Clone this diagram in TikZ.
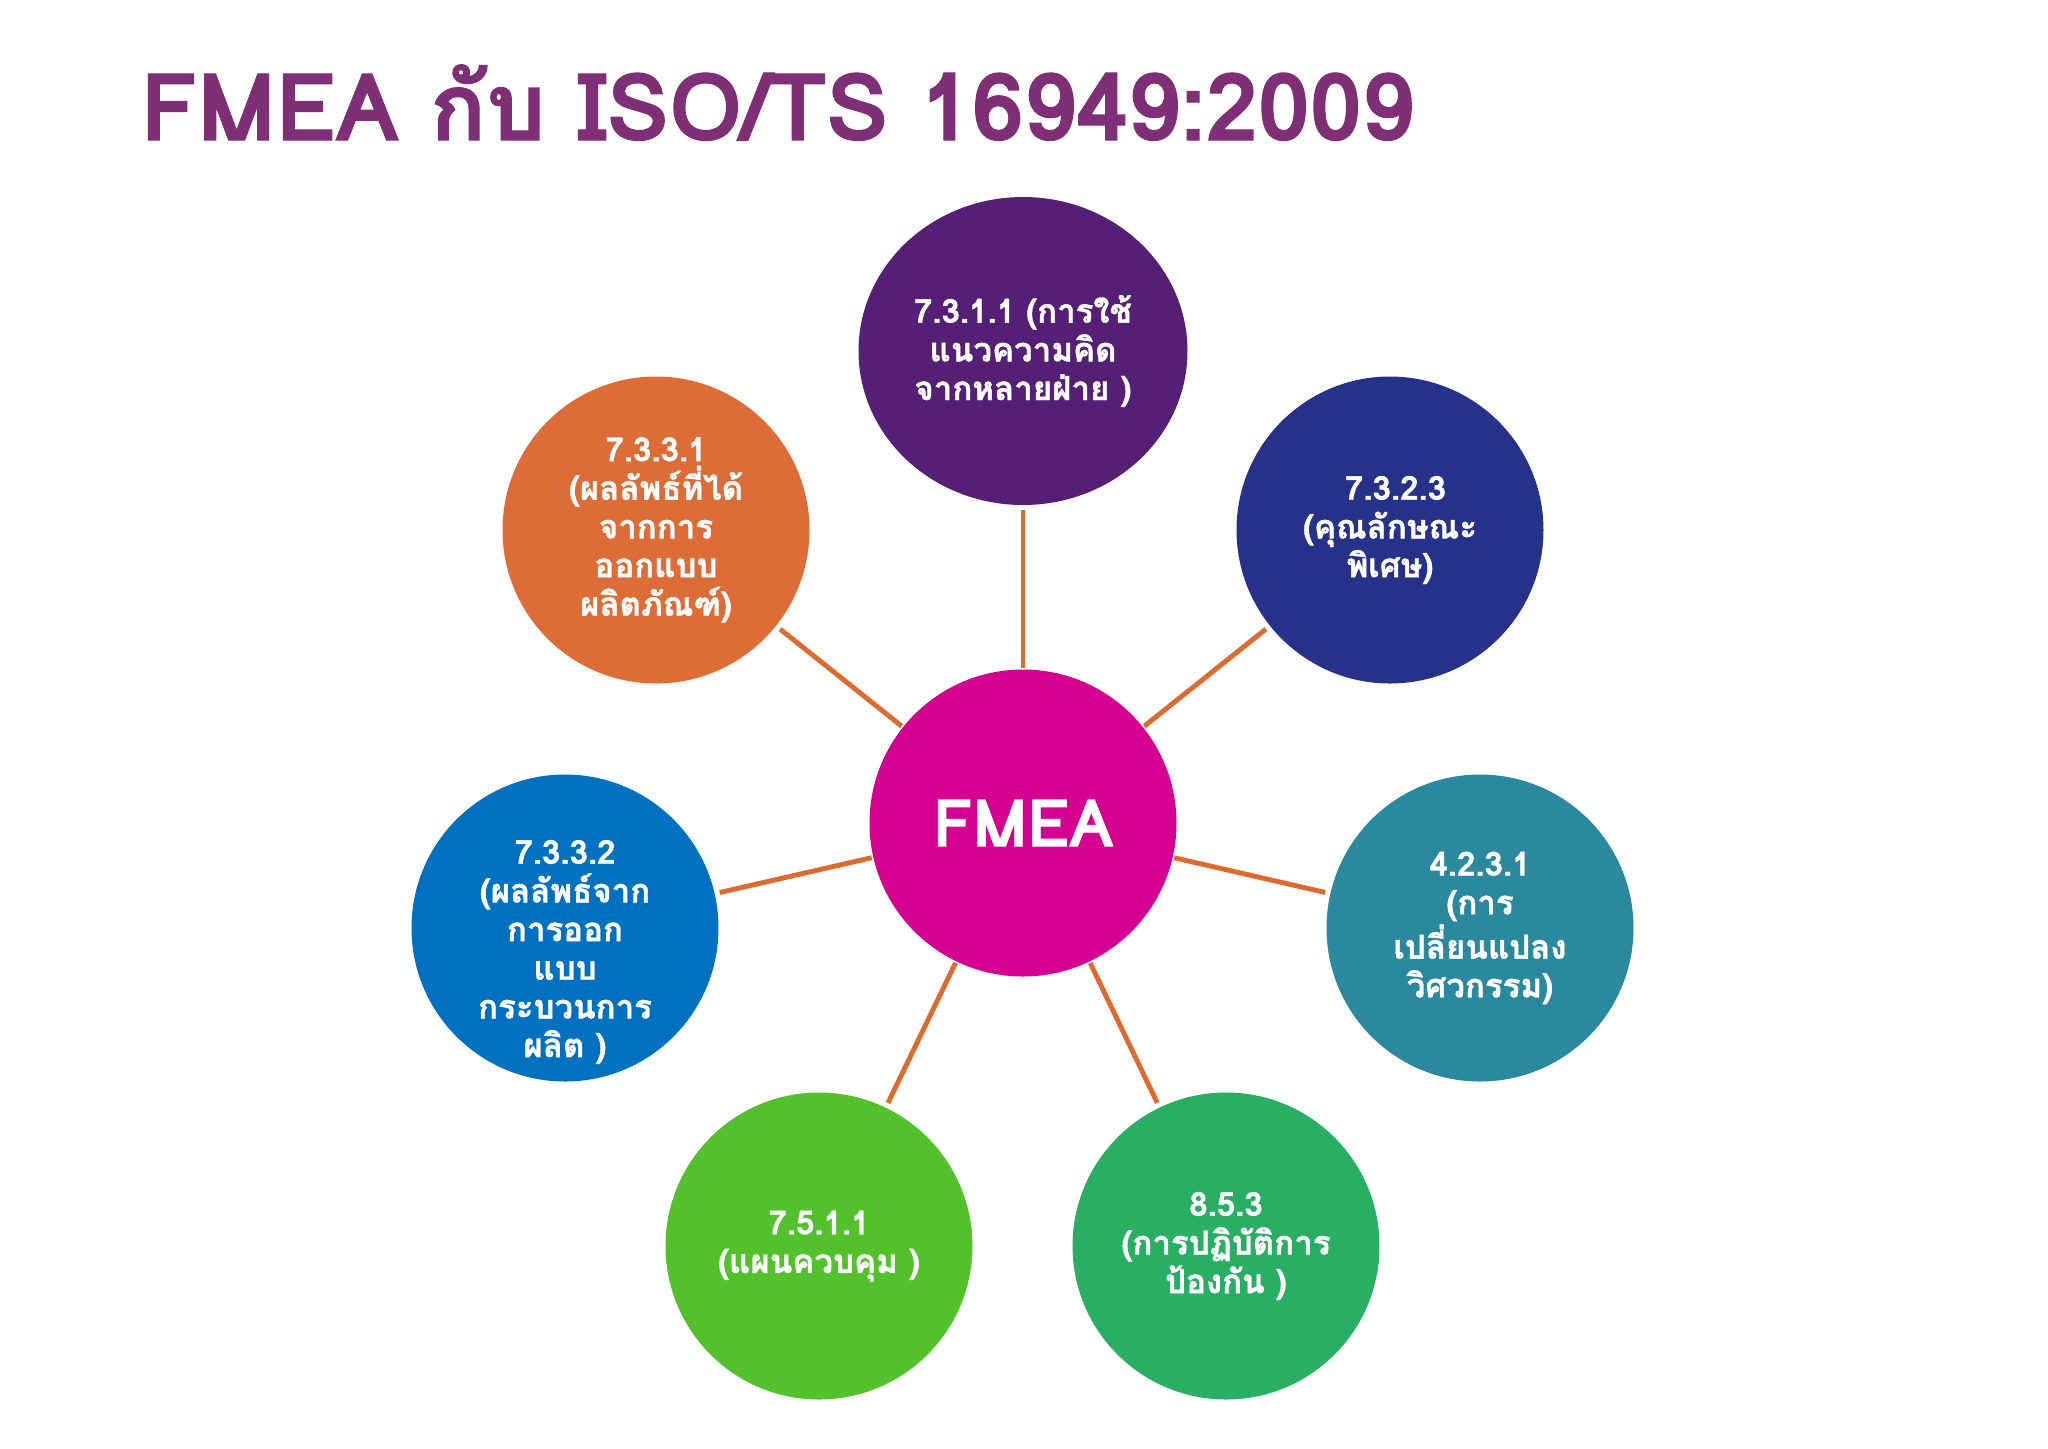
\documentclass[tikz,border=0pt]{standalone}
\usepackage{fontspec}
\newfontfamily\thaifont[Script=Thai, BoldFeatures={FakeBold=1.2}]{Loma}
\usetikzlibrary{shapes.geometric}
\definecolor{titlepurple}{HTML}{7F2F75}
\definecolor{linkorange}{HTML}{DD6A2E}
\definecolor{fmeapink}{HTML}{D4008F}
\definecolor{cpurple}{HTML}{541F75}
\definecolor{corange}{HTML}{DE6C36}
\definecolor{cnavy}{HTML}{263189}
\definecolor{cblue}{HTML}{0070C0}
\definecolor{cteal}{HTML}{2A899E}
\definecolor{clime}{HTML}{52C12B}
\definecolor{cgreen}{HTML}{29AF64}
\begin{document}
\begin{tikzpicture}[
	bubble/.style={circle, minimum size=3.07cm, inner sep=0pt, outer sep=0pt, text=white, align=center, font=\thaifont\bfseries\fontsize{9.4}{11}\selectfont},
	link/.style={draw=linkorange, line width=1.4pt, shorten <=0.5pt, shorten >=1.5pt}
]
	\useasboundingbox (0,0) rectangle (20.48,-14.48);
	\node[anchor=base west, inner sep=0pt, text=titlepurple, font=\thaifont\bfseries\fontsize{26.6}{30}\selectfont] (title) at (1.40,-1.40) {FMEA กับ ISO/TS 16949:2009};
	% centre
	\node[bubble, fill=fmeapink, font=\thaifont\bfseries\fontsize{18.6}{22}\selectfont] (fmea) at (10.23,-8.23) {FMEA};
	% clauses round it
	\node[bubble, ellipse, minimum width=3.29cm, minimum height=3.08cm, fill=cpurple] (c7311) at (10.23,-3.51) {7.3.1.1 (การใช้\\แนวความคิด\\จากหลายฝ่าย )};
	\node[bubble, fill=corange] (c7331) at (6.56,-5.30) {7.3.3.1\\(ผลลัพธ์ที่ได้\\จากการ\\ออกแบบ\\ผลิตภัณฑ์)};
	\node[bubble, fill=cnavy] (c7323) at (13.90,-5.30) {\ 7.3.2.3\\(คุณลักษณะ\\พิเศษ)};
	\node[bubble, fill=cblue, label={[bubble, minimum size=0pt, yshift=-0.24cm]center:7.3.3.2\\(ผลลัพธ์จาก\\การออก\\แบบ\\กระบวนการ\\ผลิต )}] (c7332) at (5.65,-9.28) {};
	\node[bubble, fill=cteal] (c4231) at (14.80,-9.28) {4.2.3.1\\(การ\\เปลี่ยนแปลง\\วิศวกรรม)};
	\node[bubble, fill=clime] (c7511) at (8.19,-12.46) {7.5.1.1\\(แผนควบคุม )};
	\node[bubble, fill=cgreen] (c853) at (12.26,-12.46) {8.5.3\\(การปฏิบัติการ\\ป้องกัน )};
	\foreach \c in {c7311,c7331,c7323,c7332,c4231,c7511,c853}
		\draw[link] (fmea) -- (\c);
\end{tikzpicture}
\end{document}
